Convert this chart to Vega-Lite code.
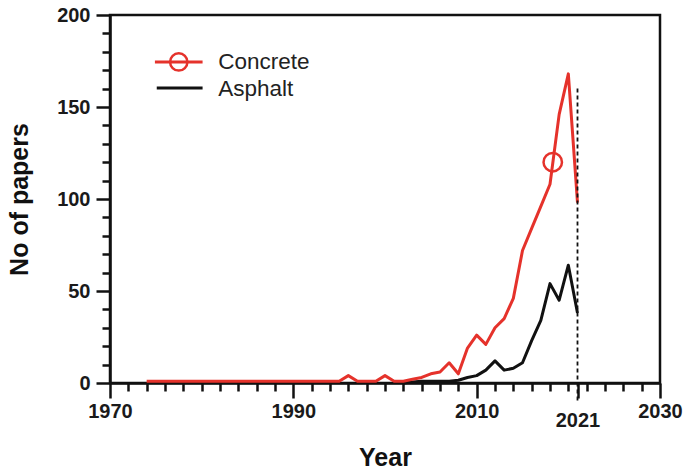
{
  "$schema": "https://vega.github.io/schema/vega-lite/v6.json",
  "width": 550,
  "height": 368,
  "autosize": "none",
  "padding": {"left": 110, "top": 15, "right": 26, "bottom": 88},
  "background": "white",
  "config": {
    "view": {"stroke": "#111111", "strokeWidth": 2.5},
    "axis": {
      "grid": false,
      "domainColor": "#111111",
      "domainWidth": 2.5,
      "tickColor": "#111111",
      "tickWidth": 2.5,
      "labelFont": "Liberation Sans",
      "labelFontWeight": "bold",
      "labelFontSize": 20,
      "labelColor": "#1a1a1a",
      "labelOverlap": false,
      "labelBound": false,
      "labelFlush": false,
      "titleFont": "Liberation Sans",
      "titleFontWeight": "bold",
      "titleFontSize": 25,
      "titleColor": "#111111"
    }
  },
  "resolve": {"axis": {"x": "independent", "y": "independent"}},
  "datasets": {
    "papers": [
      {"year": 1974, "series": "Concrete", "value": 1},
      {"year": 1975, "series": "Concrete", "value": 1},
      {"year": 1976, "series": "Concrete", "value": 1},
      {"year": 1977, "series": "Concrete", "value": 1},
      {"year": 1978, "series": "Concrete", "value": 1},
      {"year": 1979, "series": "Concrete", "value": 1},
      {"year": 1980, "series": "Concrete", "value": 1},
      {"year": 1981, "series": "Concrete", "value": 1},
      {"year": 1982, "series": "Concrete", "value": 1},
      {"year": 1983, "series": "Concrete", "value": 1},
      {"year": 1984, "series": "Concrete", "value": 1},
      {"year": 1985, "series": "Concrete", "value": 1},
      {"year": 1986, "series": "Concrete", "value": 1},
      {"year": 1987, "series": "Concrete", "value": 1},
      {"year": 1988, "series": "Concrete", "value": 1},
      {"year": 1989, "series": "Concrete", "value": 1},
      {"year": 1990, "series": "Concrete", "value": 1},
      {"year": 1991, "series": "Concrete", "value": 1},
      {"year": 1992, "series": "Concrete", "value": 1},
      {"year": 1993, "series": "Concrete", "value": 1},
      {"year": 1994, "series": "Concrete", "value": 1},
      {"year": 1995, "series": "Concrete", "value": 1},
      {"year": 1996, "series": "Concrete", "value": 4},
      {"year": 1997, "series": "Concrete", "value": 1},
      {"year": 1998, "series": "Concrete", "value": 1},
      {"year": 1999, "series": "Concrete", "value": 1},
      {"year": 2000, "series": "Concrete", "value": 4},
      {"year": 2001, "series": "Concrete", "value": 1},
      {"year": 2002, "series": "Concrete", "value": 1},
      {"year": 2003, "series": "Concrete", "value": 2},
      {"year": 2004, "series": "Concrete", "value": 3},
      {"year": 2005, "series": "Concrete", "value": 5},
      {"year": 2006, "series": "Concrete", "value": 6},
      {"year": 2007, "series": "Concrete", "value": 11},
      {"year": 2008, "series": "Concrete", "value": 5},
      {"year": 2009, "series": "Concrete", "value": 19},
      {"year": 2010, "series": "Concrete", "value": 26},
      {"year": 2011, "series": "Concrete", "value": 21},
      {"year": 2012, "series": "Concrete", "value": 30},
      {"year": 2013, "series": "Concrete", "value": 35},
      {"year": 2014, "series": "Concrete", "value": 46},
      {"year": 2015, "series": "Concrete", "value": 72},
      {"year": 2016, "series": "Concrete", "value": 84},
      {"year": 2017, "series": "Concrete", "value": 96},
      {"year": 2018, "series": "Concrete", "value": 108},
      {"year": 2019, "series": "Concrete", "value": 146},
      {"year": 2020, "series": "Concrete", "value": 168},
      {"year": 2021, "series": "Concrete", "value": 98},
      {"year": 2002, "series": "Asphalt", "value": 0},
      {"year": 2003, "series": "Asphalt", "value": 0.5},
      {"year": 2004, "series": "Asphalt", "value": 1},
      {"year": 2005, "series": "Asphalt", "value": 1},
      {"year": 2006, "series": "Asphalt", "value": 1},
      {"year": 2007, "series": "Asphalt", "value": 1},
      {"year": 2008, "series": "Asphalt", "value": 1.5},
      {"year": 2009, "series": "Asphalt", "value": 3},
      {"year": 2010, "series": "Asphalt", "value": 4},
      {"year": 2011, "series": "Asphalt", "value": 7},
      {"year": 2012, "series": "Asphalt", "value": 12},
      {"year": 2013, "series": "Asphalt", "value": 7},
      {"year": 2014, "series": "Asphalt", "value": 8},
      {"year": 2015, "series": "Asphalt", "value": 11},
      {"year": 2016, "series": "Asphalt", "value": 23},
      {"year": 2017, "series": "Asphalt", "value": 34},
      {"year": 2018, "series": "Asphalt", "value": 54},
      {"year": 2019, "series": "Asphalt", "value": 45},
      {"year": 2020, "series": "Asphalt", "value": 64},
      {"year": 2021, "series": "Asphalt", "value": 38}
    ],
    "marker": [
      {"year": 2018.3, "series": "Concrete", "value": 120}
    ],
    "one": [{}]
  },
  "layer": [
    {
      "data": {"name": "papers"},
      "transform": [{"filter": "datum.series == 'Asphalt'"}],
      "mark": {"type": "line", "color": "#111111", "strokeWidth": 3, "strokeJoin": "round"},
      "encoding": {
        "x": {
          "field": "year", "type": "quantitative", "title": "Year",
          "scale": {"domain": [1970, 2030], "nice": false, "zero": false},
          "axis": {
            "orient": "bottom",
            "values": [1970, 1990, 2010, 2021, 2030],
            "labelExpr": "datum.value == 2021 ? ['', '2021'] : format(datum.value, 'd')",
            "labelLineHeight": 9,
            "tickSize": 15,
            "labelPadding": 3,
            "titlePadding": 15
          }
        },
        "y": {
          "field": "value", "type": "quantitative", "title": "No of papers",
          "scale": {"domain": [0, 200], "nice": false},
          "axis": {
            "orient": "left",
            "values": [0, 50, 100, 150, 200],
            "format": "d",
            "tickSize": 14,
            "labelPadding": 6,
            "titlePadding": 24
          }
        }
      }
    },
    {
      "data": {"name": "papers"},
      "transform": [{"filter": "datum.series == 'Concrete'"}],
      "mark": {"type": "line", "color": "#E5322B", "strokeWidth": 3, "strokeJoin": "round"},
      "encoding": {
        "x": {
          "field": "year", "type": "quantitative",
          "axis": {
            "orient": "bottom",
            "values": [1972,1974,1976,1978,1980,1982,1984,1986,1988,1992,1994,1996,1998,2000,2002,2004,2006,2008,2012,2014,2016,2018,2020,2022,2024,2026,2028],
            "labels": false,
            "domain": false,
            "tickSize": 8,
            "title": null
          }
        },
        "y": {
          "field": "value", "type": "quantitative",
          "axis": {
            "orient": "left",
            "values": [10,20,30,40,60,70,80,90,110,120,130,140,160,170,180,190],
            "labels": false,
            "domain": false,
            "tickSize": 8,
            "title": null
          }
        }
      }
    },
    {
      "data": {"name": "marker"},
      "mark": {"type": "point", "shape": "circle", "filled": false, "stroke": "#E5322B", "strokeWidth": 2.5, "size": 340, "opacity": 1},
      "encoding": {
        "x": {"field": "year", "type": "quantitative", "axis": null},
        "y": {"field": "value", "type": "quantitative", "axis": null}
      }
    },
    {
      "data": {"name": "one"},
      "mark": {"type": "rule", "color": "#111111", "strokeWidth": 1.8, "strokeDash": [4, 3]},
      "encoding": {
        "x": {"datum": 2021, "type": "quantitative", "axis": null},
        "y": {"datum": 160, "type": "quantitative", "axis": null},
        "y2": {"datum": -11}
      }
    },
    {
      "data": {"name": "one"},
      "mark": {"type": "rule", "color": "#E5322B", "strokeWidth": 3},
      "encoding": {
        "x": {"datum": 1974.9, "type": "quantitative", "axis": null},
        "x2": {"datum": 1980.1},
        "y": {"datum": 174.5, "type": "quantitative", "axis": null}
      }
    },
    {
      "data": {"name": "one"},
      "mark": {"type": "point", "shape": "circle", "filled": false, "stroke": "#E5322B", "strokeWidth": 2.5, "size": 300, "opacity": 1},
      "encoding": {
        "x": {"datum": 1977.5, "type": "quantitative", "axis": null},
        "y": {"datum": 174.5, "type": "quantitative", "axis": null}
      }
    },
    {
      "data": {"name": "one"},
      "mark": {"type": "rule", "color": "#111111", "strokeWidth": 3},
      "encoding": {
        "x": {"datum": 1975.1, "type": "quantitative", "axis": null},
        "x2": {"datum": 1980.1},
        "y": {"datum": 160.3, "type": "quantitative", "axis": null}
      }
    },
    {
      "data": {"name": "one"},
      "mark": {"type": "text", "align": "left", "baseline": "middle", "font": "Liberation Sans", "fontSize": 22.5, "color": "#222222"},
      "encoding": {
        "x": {"datum": 1981.8, "type": "quantitative", "axis": null},
        "y": {"datum": 174.5, "type": "quantitative", "axis": null},
        "text": {"value": "Concrete"}
      }
    },
    {
      "data": {"name": "one"},
      "mark": {"type": "text", "align": "left", "baseline": "middle", "font": "Liberation Sans", "fontSize": 22.5, "color": "#222222"},
      "encoding": {
        "x": {"datum": 1981.8, "type": "quantitative", "axis": null},
        "y": {"datum": 159.8, "type": "quantitative", "axis": null},
        "text": {"value": "Asphalt"}
      }
    }
  ]
}
